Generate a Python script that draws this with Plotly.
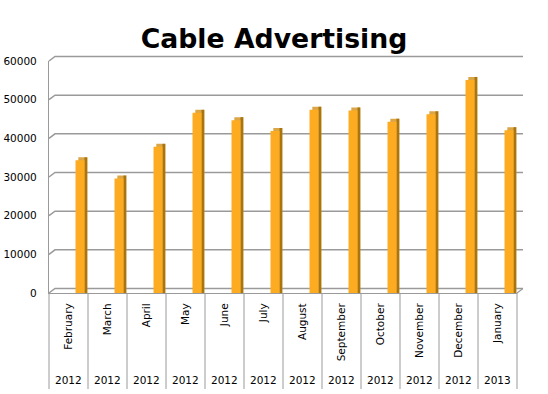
import plotly.graph_objects as go

months = ["February", "March", "April", "May", "June", "July", "August",
          "September", "October", "November", "December", "January"]
years = ["2012", "2012", "2012", "2012", "2012", "2012", "2012",
         "2012", "2012", "2012", "2012", "2013"]
values = [34300, 29600, 37800, 46600, 44700, 41900, 47400, 47200, 44300, 46200, 55100, 42100]
y_ticks = [0, 10000, 20000, 30000, 40000, 50000, 60000]

W, H = 548, 394
ML, MR, MT, MB = 49, 31, 61, 101
PW, PH = W - ML - MR, H - MT - MB
YMAX = 60000
DX, DY = 6, 4.5            # depth offset of back wall, px
dxp, dyp = DX / PW, DY / PH
FONT = "DejaVu Sans"
GRID = "#9a9a9a"

n = len(months)
xs = list(range(n))
cat_px = PW / n
off = 0.18
bw = 0.23
top_h = 3 / PH * YMAX
shift = 2.8 / cat_px

fig = go.Figure()
# top face (light)
fig.add_trace(go.Bar(x=xs, y=[v + top_h for v in values], offset=off + shift, width=bw,
                     marker=dict(color="#dba648", line=dict(width=0)), hoverinfo="skip"))
# side face (dark)
fig.add_trace(go.Bar(x=xs, y=[v + top_h for v in values], offset=off + bw, width=shift,
                     marker=dict(color="#a8750f", line=dict(width=0)), hoverinfo="skip"))
# front face
fig.add_trace(go.Bar(x=xs, y=values, offset=off, width=bw,
                     marker=dict(color="#fdab21", line=dict(width=0)), name="Cable Advertising"))

shapes = []
for t in y_ticks:
    fy = t / YMAX
    shapes.append(dict(type="path", xref="paper", yref="paper",
                       path=f"M 0 {fy} L {dxp} {fy + dyp} L {1 + dxp} {fy + dyp}",
                       line=dict(color=GRID, width=1.5), layer="below"))
# right floor slant
shapes.append(dict(type="line", xref="paper", yref="paper", x0=1, y0=0, x1=1 + dxp, y1=dyp,
                   line=dict(color=GRID, width=1.2)))
# category dividers
div_len = 96 / PH
for k in range(n + 1):
    shapes.append(dict(type="line", xref="paper", yref="paper", x0=k / n, x1=k / n,
                       y0=0, y1=-div_len, line=dict(color=GRID, width=1)))

annotations = []
for i, yr in enumerate(years):
    annotations.append(dict(x=i, y=-(379 - 292.5) / PH, xref="x", yref="paper",
                            text=yr, showarrow=False, yanchor="middle",
                            font=dict(family=FONT, size=10.5, color="#000")))

fig.update_layout(
    width=W, height=H,
    margin=dict(l=ML, r=MR, t=MT, b=MB, autoexpand=False),
    paper_bgcolor="white", plot_bgcolor="white",
    barmode="overlay", showlegend=False,
    title=dict(text="<b>Cable Advertising</b>", x=0.5, xref="container", xanchor="center",
               y=1 - 39 / H, yref="container", yanchor="middle",
               font=dict(family=FONT, size=26.7, color="#000")),
    xaxis=dict(range=[-0.5, n - 0.5], tickvals=xs, ticktext=months, tickangle=-90,
               showgrid=False, zeroline=False, showline=True, linecolor=GRID, linewidth=1.2,
               ticks="", ticklabelstandoff=5, automargin=False,
               tickfont=dict(family=FONT, size=10.5, color="#000")),
    yaxis=dict(range=[0, YMAX], tickvals=y_ticks, tickformat="d", showgrid=False, zeroline=False,
               showline=True, linecolor=GRID, linewidth=1.2, ticks="",
               ticklabelstandoff=9, automargin=False,
               tickfont=dict(family=FONT, size=10.5, color="#000")),
    shapes=shapes, annotations=annotations,
)

fig.write_html("out.html", config={"displayModeBar": False},
               post_script="document.body.style.margin='0';")
